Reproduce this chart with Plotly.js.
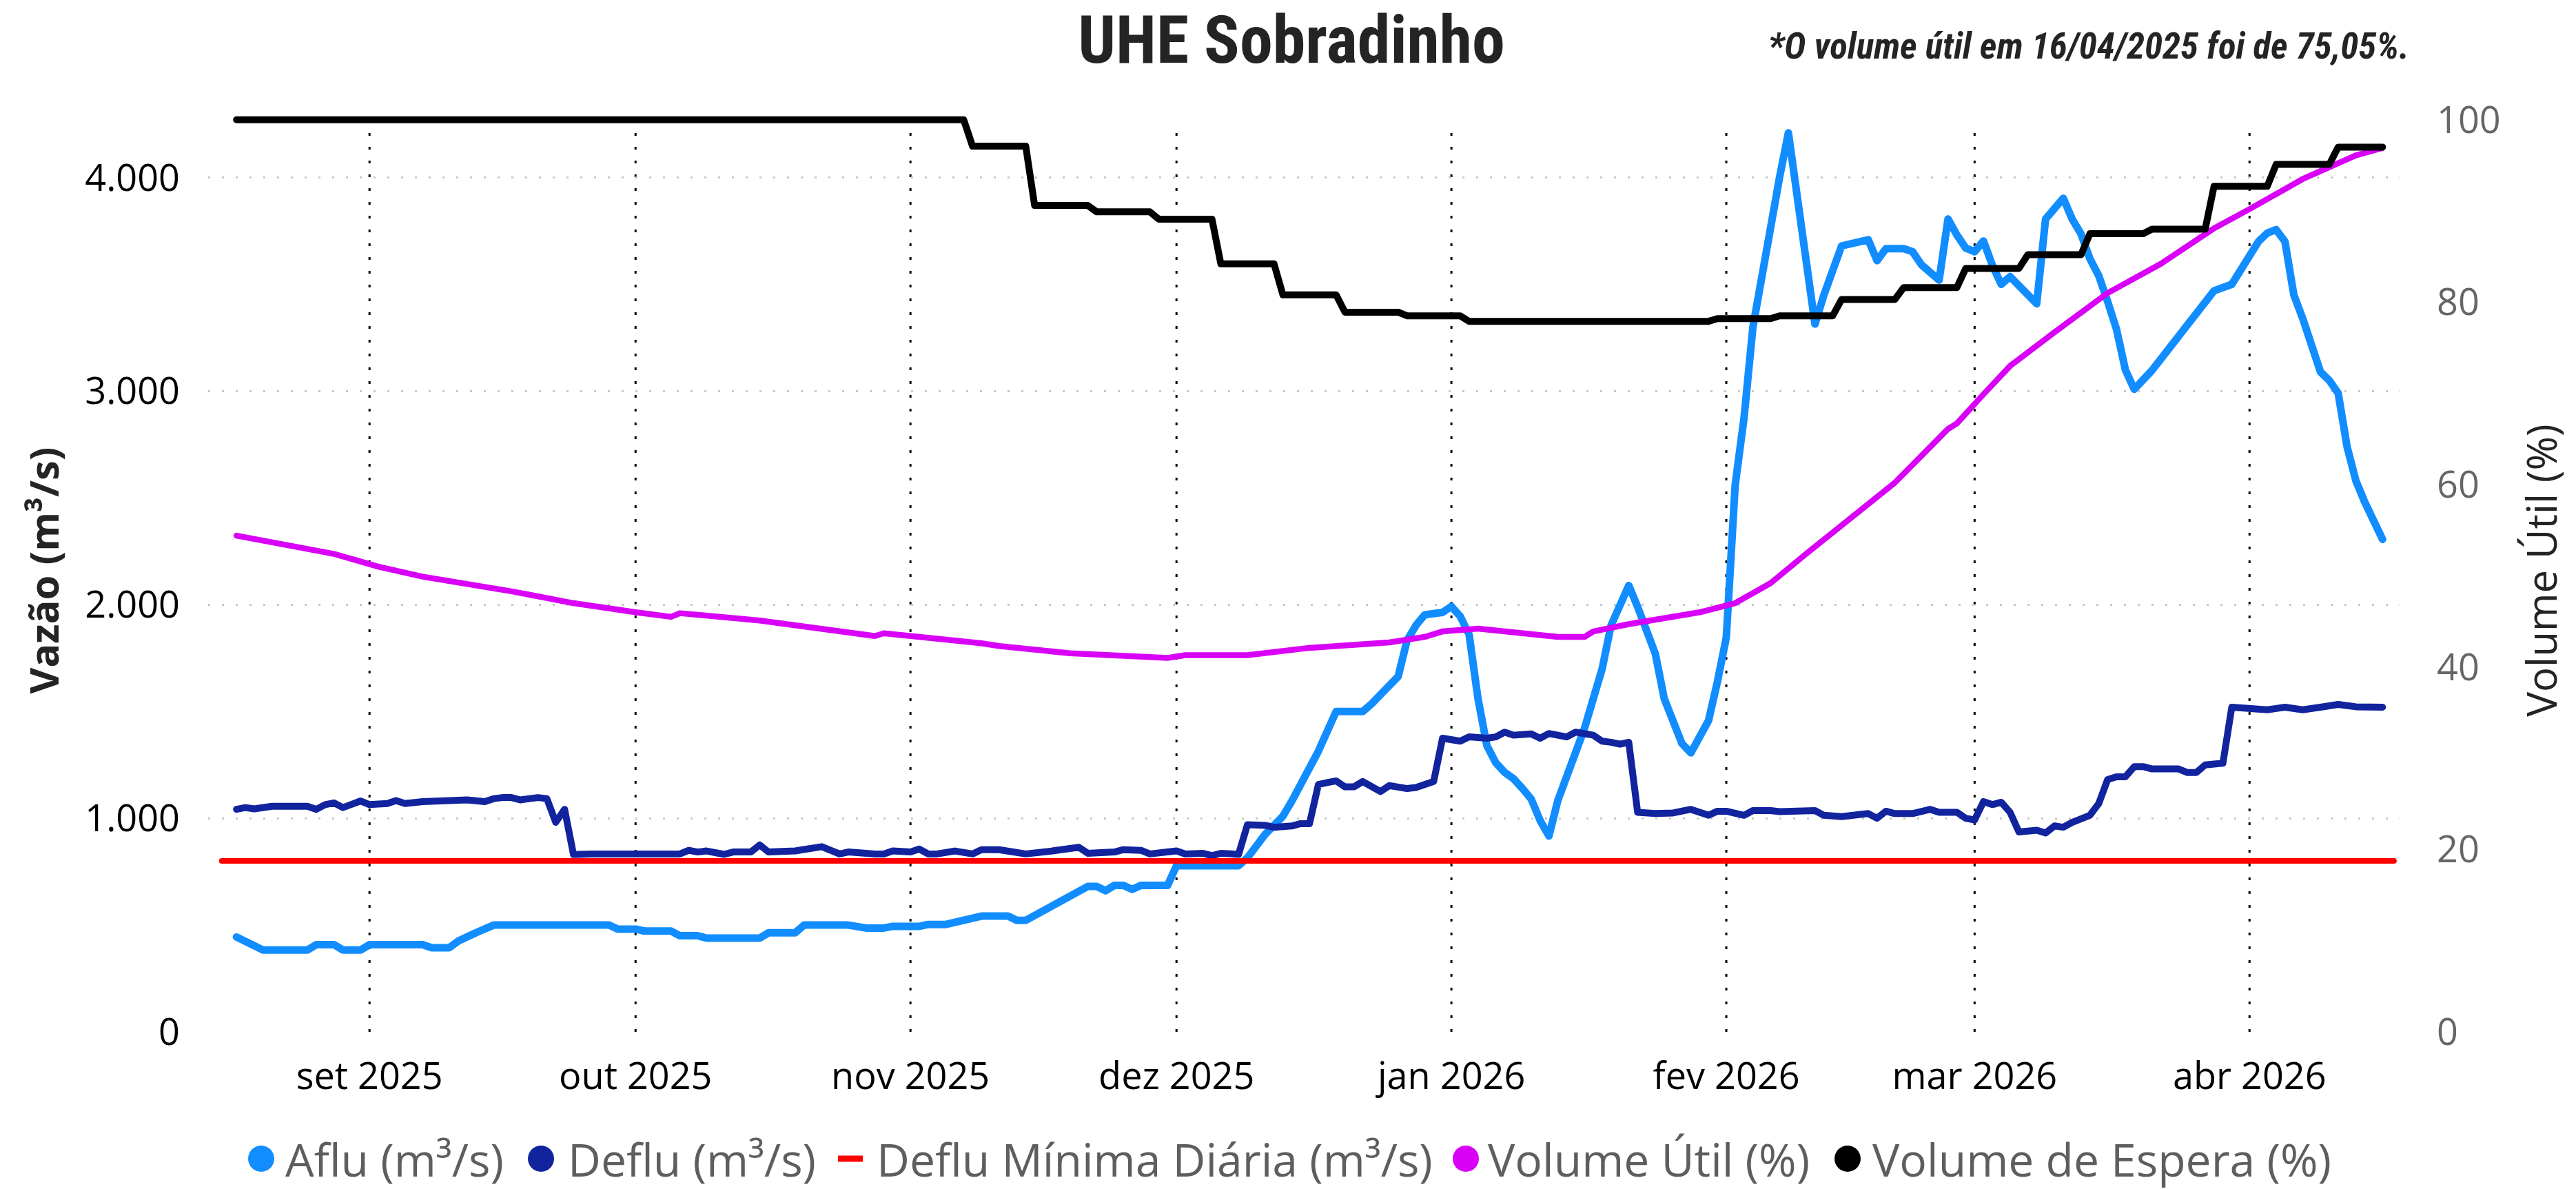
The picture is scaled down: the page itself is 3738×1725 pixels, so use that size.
<!DOCTYPE html>
<html>
<head>
<meta charset="utf-8">
<script src="https://cdn.plot.ly/plotly-3.0.1.min.js"></script>
<style>
  html, body { margin: 0; padding: 0; background: #fff; }
  #chart { width: 3738px; height: 1725px; }
  .js-line { stroke-linejoin: round; stroke-linecap: round; }
</style>
</head>
<body>
<div id="chart"></div>
<script>
// ---------------- DATA ----------------
const seriesNames = ['Aflu (m³/s)', 'Deflu (m³/s)', 'Deflu Mínima Diária (m³/s)', 'Volume Útil (%)', 'Volume de Espera (%)'];
const monthTickDates = ['2025-09-01','2025-10-01','2025-11-01','2025-12-01','2026-01-01','2026-02-01','2026-03-01','2026-04-01'];
const monthTickLabels = ['set 2025','out 2025','nov 2025','dez 2025','jan 2026','fev 2026','mar 2026','abr 2026'];
const chartTitle = 'UHE Sobradinho';
const noteText = '*O volume útil em 16/04/2025 foi de 75,05%.';
const leftAxisTitle = 'Vazão (m³/s)';
const rightAxisTitle = 'Volume Útil (%)';

const afluDates = ['2025-08-17','2025-08-20','2025-08-25','2025-08-26','2025-08-28','2025-08-29','2025-08-31','2025-09-01','2025-09-07','2025-09-08','2025-09-10','2025-09-11','2025-09-13','2025-09-15','2025-09-28','2025-09-29','2025-10-01','2025-10-02','2025-10-05','2025-10-06','2025-10-08','2025-10-09','2025-10-15','2025-10-16','2025-10-19','2025-10-20','2025-10-25','2025-10-27','2025-10-29','2025-10-30','2025-11-02','2025-11-03','2025-11-05','2025-11-09','2025-11-12','2025-11-13','2025-11-14','2025-11-19','2025-11-21','2025-11-22','2025-11-23','2025-11-24','2025-11-25','2025-11-26','2025-11-27','2025-11-30','2025-12-01','2025-12-08','2025-12-09','2025-12-11','2025-12-13','2025-12-14','2025-12-15','2025-12-16','2025-12-17','2025-12-19','2025-12-22','2025-12-23','2025-12-26','2025-12-27','2025-12-28','2025-12-29','2025-12-31','2026-01-01','2026-01-02','2026-01-03','2026-01-04','2026-01-05','2026-01-06','2026-01-07','2026-01-08','2026-01-09','2026-01-10','2026-01-11','2026-01-12','2026-01-13','2026-01-14','2026-01-15','2026-01-16','2026-01-17','2026-01-18','2026-01-19','2026-01-20','2026-01-21','2026-01-22','2026-01-23','2026-01-24','2026-01-25','2026-01-26','2026-01-27','2026-01-28','2026-01-29','2026-01-30','2026-01-31','2026-02-01','2026-02-02','2026-02-03','2026-02-04','2026-02-05','2026-02-06','2026-02-07','2026-02-08','2026-02-09','2026-02-10','2026-02-11','2026-02-12','2026-02-13','2026-02-14','2026-02-17','2026-02-18','2026-02-19','2026-02-21','2026-02-22','2026-02-23','2026-02-25','2026-02-26','2026-02-27','2026-02-28','2026-03-01','2026-03-02','2026-03-03','2026-03-04','2026-03-05','2026-03-06','2026-03-07','2026-03-08','2026-03-09','2026-03-10','2026-03-11','2026-03-12','2026-03-13','2026-03-14','2026-03-15','2026-03-16','2026-03-17','2026-03-18','2026-03-19','2026-03-21','2026-03-24','2026-03-26','2026-03-28','2026-03-30','2026-03-31','2026-04-01','2026-04-02','2026-04-03','2026-04-04','2026-04-05','2026-04-06','2026-04-07','2026-04-08','2026-04-09','2026-04-10','2026-04-11','2026-04-12','2026-04-13','2026-04-14','2026-04-15','2026-04-16'];
const afluValues = [444,383,383,408,408,383,383,408,408,394,394,425,464,500,500,481,481,472,472,450,450,439,439,464,464,500,500,486,486,494,494,503,503,542,542,522,522,633,681,681,661,686,686,667,686,686,778,778,815,925,1010,1080,1160,1230,1314,1500,1500,1536,1664,1833,1903,1953,1964,1992,1945,1860,1560,1340,1260,1215,1185,1140,1090,990,917,1083,1190,1290,1420,1560,1700,1903,2000,2090,1990,1880,1770,1560,1450,1350,1306,1375,1458,1640,1847,2560,2875,3300,3530,3806,4000,4209,3900,3600,3314,3450,3570,3680,3709,3611,3667,3667,3653,3592,3520,3806,3731,3670,3653,3703,3590,3500,3536,3490,3450,3409,3806,3860,3903,3806,3736,3620,3540,3420,3290,3100,3009,3097,3256,3360,3470,3500,3570,3640,3700,3740,3756,3700,3450,3340,3200,3090,3050,2990,2740,2580,2480,2390,2306];

const defluDates = ['2025-08-17','2025-08-18','2025-08-19','2025-08-20','2025-08-21','2025-08-25','2025-08-26','2025-08-27','2025-08-28','2025-08-29','2025-08-30','2025-08-31','2025-09-01','2025-09-03','2025-09-04','2025-09-05','2025-09-07','2025-09-09','2025-09-12','2025-09-14','2025-09-15','2025-09-16','2025-09-17','2025-09-18','2025-09-20','2025-09-21','2025-09-22','2025-09-23','2025-09-24','2025-09-26','2025-10-01','2025-10-03','2025-10-05','2025-10-06','2025-10-07','2025-10-08','2025-10-09','2025-10-11','2025-10-12','2025-10-14','2025-10-15','2025-10-16','2025-10-19','2025-10-20','2025-10-22','2025-10-24','2025-10-25','2025-10-28','2025-10-29','2025-10-30','2025-11-01','2025-11-02','2025-11-03','2025-11-04','2025-11-06','2025-11-08','2025-11-09','2025-11-11','2025-11-14','2025-11-17','2025-11-20','2025-11-21','2025-11-24','2025-11-25','2025-11-27','2025-11-28','2025-12-01','2025-12-02','2025-12-04','2025-12-05','2025-12-06','2025-12-08','2025-12-09','2025-12-11','2025-12-12','2025-12-14','2025-12-15','2025-12-16','2025-12-17','2025-12-18','2025-12-19','2025-12-20','2025-12-21','2025-12-22','2025-12-24','2025-12-25','2025-12-27','2025-12-28','2025-12-29','2025-12-30','2025-12-31','2026-01-02','2026-01-03','2026-01-05','2026-01-06','2026-01-07','2026-01-08','2026-01-10','2026-01-11','2026-01-12','2026-01-14','2026-01-15','2026-01-17','2026-01-18','2026-01-19','2026-01-20','2026-01-21','2026-01-22','2026-01-24','2026-01-26','2026-01-28','2026-01-29','2026-01-30','2026-01-31','2026-02-01','2026-02-03','2026-02-04','2026-02-06','2026-02-07','2026-02-11','2026-02-12','2026-02-14','2026-02-16','2026-02-17','2026-02-18','2026-02-19','2026-02-20','2026-02-22','2026-02-24','2026-02-25','2026-02-27','2026-02-28','2026-03-01','2026-03-02','2026-03-03','2026-03-04','2026-03-05','2026-03-06','2026-03-08','2026-03-09','2026-03-10','2026-03-11','2026-03-12','2026-03-14','2026-03-15','2026-03-16','2026-03-17','2026-03-18','2026-03-19','2026-03-20','2026-03-21','2026-03-24','2026-03-25','2026-03-26','2026-03-27','2026-03-28','2026-03-29','2026-03-30','2026-04-01','2026-04-03','2026-04-05','2026-04-07','2026-04-09','2026-04-11','2026-04-13','2026-04-14','2026-04-16'];
const defluValues = [1042,1050,1044,1047,1056,1056,1042,1064,1072,1050,1069,1081,1064,1069,1083,1069,1078,1083,1086,1078,1092,1097,1097,1086,1097,1092,981,1042,830,833,833,839,836,833,850,842,847,831,842,842,875,842,847,856,867,833,842,833,833,847,842,856,833,833,847,833,853,853,833,847,864,836,842,853,850,833,847,833,836,825,836,831,970,967,958,964,975,975,1158,1167,1175,1147,1147,1172,1125,1153,1139,1144,1161,1172,1375,1361,1381,1375,1381,1403,1389,1395,1375,1397,1381,1403,1389,1361,1356,1347,1356,1028,1022,1025,1042,1025,1014,1033,1033,1014,1036,1036,1031,1036,1014,1008,1022,1022,1000,1033,1022,1022,1042,1028,1028,1000,992,1078,1064,1075,1028,936,944,931,964,958,981,1014,1069,1181,1194,1194,1242,1242,1231,1231,1214,1214,1250,1258,1258,1520,1514,1508,1520,1508,1520,1533,1522,1520,1520];

const minDefluDates = ['2025-08-15 08:00','2026-04-17 07:00'];
const minDefluValues = [800, 800];

const volUtilDates = ['2025-08-17','2025-08-28','2025-09-02','2025-09-07','2025-09-17','2025-09-24','2025-10-01','2025-10-05','2025-10-06','2025-10-15','2025-10-28','2025-10-29','2025-11-09','2025-11-11','2025-11-19','2025-11-24','2025-11-30','2025-12-02','2025-12-09','2025-12-16','2025-12-25','2025-12-29','2025-12-31','2026-01-04','2026-01-13','2026-01-16','2026-01-17','2026-01-21','2026-01-25','2026-01-29','2026-02-02','2026-02-06','2026-02-10','2026-02-16','2026-02-20','2026-02-26','2026-02-27','2026-03-02','2026-03-05','2026-03-10','2026-03-16','2026-03-22','2026-03-28','2026-04-01','2026-04-07','2026-04-13','2026-04-16'];
const volUtilValues = [54.4,52.4,51.0,49.9,48.3,47.0,46.0,45.5,45.9,45.1,43.4,43.7,42.6,42.3,41.5,41.2,41.0,41.3,41.3,42.1,42.7,43.3,43.9,44.2,43.3,43.3,43.9,44.7,45.3,46.0,47.0,49.2,52.4,57.0,60.2,66.1,66.7,69.9,73.0,76.7,81.0,84.2,88.1,90.2,93.5,96.1,96.9];

const volEsperaDates = ['2025-08-17','2025-11-07','2025-11-08','2025-11-14','2025-11-15','2025-11-21','2025-11-22','2025-11-28','2025-11-29','2025-12-05','2025-12-06','2025-12-12','2025-12-13','2025-12-19','2025-12-20','2025-12-26','2025-12-27','2026-01-02','2026-01-03','2026-01-30','2026-01-31','2026-02-06','2026-02-07','2026-02-13','2026-02-14','2026-02-20','2026-02-21','2026-02-27','2026-02-28','2026-03-06','2026-03-07','2026-03-13','2026-03-14','2026-03-20','2026-03-21','2026-03-27','2026-03-28','2026-04-03','2026-04-04','2026-04-10','2026-04-11','2026-04-16'];
const volEsperaValues = [100,100,97.1,97.1,90.6,90.6,89.9,89.9,89.1,89.1,84.2,84.2,80.8,80.8,78.9,78.9,78.5,78.5,77.9,77.9,78.2,78.2,78.5,78.5,80.3,80.3,81.6,81.6,83.7,83.7,85.2,85.2,87.5,87.5,88.0,88.0,92.7,92.7,95.1,95.1,97.0,97.0];

// ---------------- STYLE / LAYOUT ----------------
const W = 3738, H = 1725;
// plot area in pixels; the top is raised a little above the 100 % line
// so that the line drawn at 100 % is not cut by the plot clip
const PL = 302, PR = 3483, PT = 158, PB = 1497;
const Y100 = 173.7;                     // pixel row of 100 %; 0 sits on PB
const pxPerPct = (PB - Y100) / 100;
const pxPerFlow = (PB - 257.6) / 4000;
const GRID_TOP = 178;                   // month gridlines start here
const colors = ['#118DFF', '#12239E', '#FF0000', '#D900F7', '#000000'];
const uiFont = '"Segoe UI", "Open Sans", "Noto Sans", sans-serif';
const narrowFont = '"Liberation Sans Narrow", "Roboto Condensed", "DejaVu Sans Condensed", sans-serif';

function xp(px) { return (px - PL) / (PR - PL); }
function yp(py) { return (PB - py) / (PB - PT); }

const traces = [
  { x: afluDates, y: afluValues, name: seriesNames[0], yaxis: 'y', line: { color: colors[0], width: 11 } },
  { x: defluDates, y: defluValues, name: seriesNames[1], yaxis: 'y', line: { color: colors[1], width: 10 } },
  { x: minDefluDates, y: minDefluValues, name: seriesNames[2], yaxis: 'y', line: { color: colors[2], width: 8 } },
  { x: volUtilDates, y: volUtilValues, name: seriesNames[3], yaxis: 'y2', line: { color: colors[3], width: 8.5 } },
  { x: volEsperaDates, y: volEsperaValues, name: seriesNames[4], yaxis: 'y2', line: { color: colors[4], width: 10 } }
].map(t => Object.assign({ type: 'scatter', mode: 'lines', hoverinfo: 'skip', showlegend: false }, t));

const shapes = [];
const annotations = [];

// dotted month gridlines (start a little under the top of the plot, as in the reference)
monthTickDates.forEach(d => {
  shapes.push({ type: 'line', layer: 'below', xref: 'x', yref: 'paper', x0: d, x1: d, y0: 0, y1: yp(GRID_TOP),
    line: { color: '#000000', width: 3, dash: '4px,16px' } });
});

// custom legend (Power BI style: circles, a short line for the minimum)
const legendY = yp(1681);
const legendItems = [
  { sym: 'circle', cx: 379, tx: 412 },
  { sym: 'circle', cx: 785, tx: 822 },
  { sym: 'line', cx: 1234, tx: 1270 },
  { sym: 'circle', cx: 2127, tx: 2157 },
  { sym: 'circle', cx: 2681, tx: 2715 }
];
legendItems.forEach((it, i) => {
  if (it.sym === 'circle') {
    shapes.push({ type: 'circle', xref: 'paper', yref: 'paper', xsizemode: 'pixel', ysizemode: 'pixel',
      xanchor: xp(it.cx), yanchor: legendY, x0: -19, x1: 19, y0: -19, y1: 19,
      fillcolor: colors[i], line: { width: 0 } });
  } else {
    shapes.push({ type: 'line', xref: 'paper', yref: 'paper', x0: xp(it.cx - 18), x1: xp(it.cx + 18),
      y0: legendY, y1: legendY, line: { color: colors[i], width: 9 } });
  }
  annotations.push({ xref: 'paper', yref: 'paper', x: xp(it.tx), y: legendY, xanchor: 'left', yanchor: 'middle',
    text: seriesNames[i], showarrow: false, font: { family: uiFont, size: 66, color: '#605E5C' } });
});
annotations.push({ xref: 'paper', yref: 'paper', x: xp(3498), y: yp(67), xanchor: 'right', yanchor: 'middle',
  text: '<b><i>' + noteText + '</i></b>', showarrow: false, font: { family: narrowFont, size: 53, color: '#252423' } });

const layout = {
  width: W, height: H,
  margin: { l: PL, r: W - PR, t: PT, b: H - PB, pad: 0 },
  paper_bgcolor: '#ffffff', plot_bgcolor: '#ffffff',
  separators: ',.',
  showlegend: false,
  title: { text: '<b>' + chartTitle + '</b>', x: 1874 / W, xref: 'container', xanchor: 'center',
    y: 1 - 57 / H, yref: 'container', yanchor: 'middle',
    font: { family: narrowFont, size: 96, color: '#252423' } },
  xaxis: {
    type: 'date',
    range: ['2025-08-13 19:12', '2026-04-18 00:00'],
    tickmode: 'array', tickvals: monthTickDates, ticktext: monthTickLabels,
    showgrid: false,
    zeroline: false, showline: false, ticks: '',
    ticklabelstandoff: 28,
    tickfont: { family: uiFont, size: 54, color: '#000000' }
  },
  yaxis: {
    range: [0, (PB - PT) / pxPerFlow],
    tickmode: 'array', tickvals: [0, 1000, 2000, 3000, 4000],
    tickformat: ',d',
    showgrid: true, gridcolor: '#C8C8C8', gridwidth: 3, griddash: '3px,17px',
    zeroline: false, showline: false, ticks: '',
    ticklabelstandoff: 40,
    tickfont: { family: uiFont, size: 54, color: '#000000' },
    title: { text: '<b>' + leftAxisTitle + '</b>', standoff: 18, font: { family: uiFont, size: 58, color: '#252423' } }
  },
  yaxis2: {
    overlaying: 'y', side: 'right', anchor: 'x',
    range: [0, (PB - PT) / pxPerPct], tickmode: 'array', tickvals: [0, 20, 40, 60, 80, 100],
    showgrid: false, zeroline: false, showline: false, ticks: '',
    ticklabelstandoff: 52,
    tickfont: { family: uiFont, size: 54, color: '#666666' },
    title: { text: rightAxisTitle, standoff: 40, font: { family: uiFont, size: 60, color: '#252423' } }
  },
  shapes: shapes,
  annotations: annotations
};

Plotly.newPlot('chart', traces, layout, { staticPlot: true, displayModeBar: false });
</script>
</body>
</html>
